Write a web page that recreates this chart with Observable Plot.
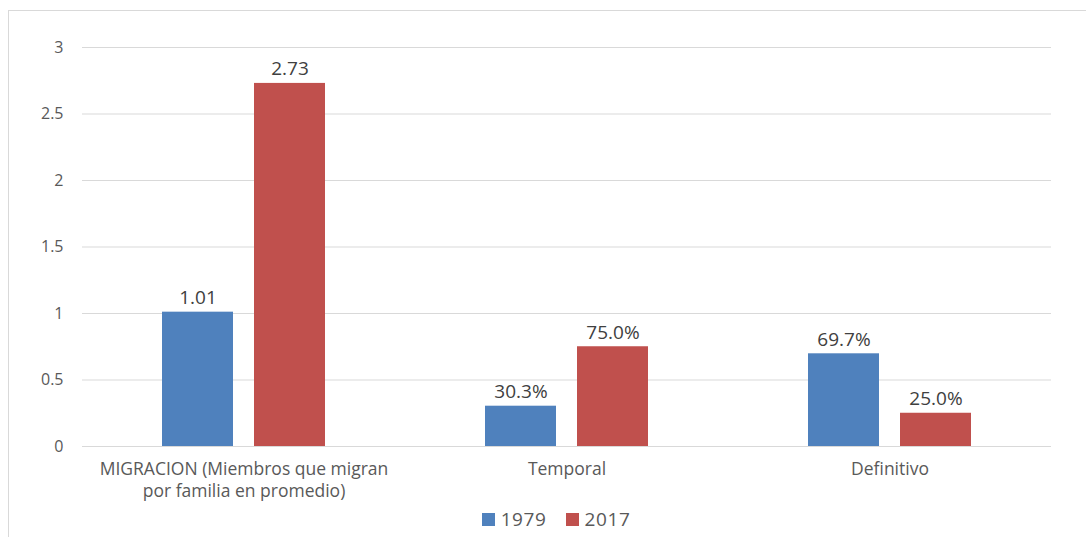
<!DOCTYPE html>
<html>
<head>
<meta charset="utf-8">
<script src="https://cdn.jsdelivr.net/npm/d3@7"></script>
<script src="https://cdn.jsdelivr.net/npm/@observablehq/plot@0.6"></script>
<style>
  html, body { margin: 0; padding: 0; background: #fff; }
  body { width: 1086px; height: 537px; position: relative; overflow: hidden; font-family: "Open Sans", sans-serif; }
  #frame { position: absolute; left: 8px; top: 10px; width: 1200px; height: 700px; border-left: 1.5px solid #d9d9d9; border-top: 1.5px solid #d9d9d9; }
  #chart { position: absolute; left: 0; top: 0; }
  #legend { position: absolute; top: 506px; left: 13px; width: 1086px; display: flex; justify-content: center; gap: 19px; font-size: 19px; color: #595959; letter-spacing: 0.6px; line-height: 26px; }
  #legend span.item { display: flex; align-items: center; gap: 6px; }
  #legend span.sw { display: inline-block; width: 13px; height: 13px; }
</style>
</head>
<body>
<div id="frame"></div>
<div id="chart"></div>
<div id="legend"></div>
<script>
const categories = ["MIGRACION (Miembros que migran\npor familia en promedio)", "Temporal", "Definitivo"];
const series = ["1979", "2017"];
const values1979 = [1.01, 0.303, 0.697];
const values2017 = [2.73, 0.75, 0.25];
const labels1979 = ["1.01", "30.3%", "69.7%"];
const labels2017 = ["2.73", "75.0%", "25.0%"];
const colors = ["#4F81BD", "#C0504D"];
const yTicks = [0, 0.5, 1, 1.5, 2, 2.5, 3];

const data = [];
categories.forEach((c, i) => {
  data.push({cat: c, year: series[0], value: values1979[i], label: labels1979[i]});
  data.push({cat: c, year: series[1], value: values2017[i], label: labels2017[i]});
});

const chart = Plot.plot({
  width: 1086,
  height: 505,
  marginLeft: 82,
  marginRight: 35,
  marginTop: 47,
  marginBottom: 59,
  style: {fontFamily: "Open Sans, sans-serif", color: "#595959", background: "transparent", overflow: "visible"},
  fx: {domain: categories, padding: 0, label: null, axis: null},
  x: {domain: series, paddingInner: 0.228, paddingOuter: 0.869, axis: null},
  y: {domain: [0, 3], ticks: yTicks, label: null},
  color: {domain: series, range: colors},
  marks: [
    Plot.gridY(yTicks, {stroke: "#d9d9d9", strokeOpacity: 1, strokeWidth: 1}),
    Plot.axisY(yTicks, {tickSize: 0, tickPadding: 19, fontSize: 16, fill: "#595959", tickFormat: d => String(d), label: null}),
    Plot.axisFx({anchor: "bottom", tickSize: 0, tickPadding: 12, fontSize: 17.5, fill: "#595959", label: null, lineHeight: 1.3, style: {letterSpacing: "0.4px"}}),
    Plot.barY(data, {fx: "cat", x: "year", y: "value", fill: "year"}),
    Plot.text(data, {fx: "cat", x: "year", y: "value", text: "label", lineAnchor: "bottom", dy: -8, fontSize: 19, fill: "#404040", style: {letterSpacing: "0.6px"}})
  ]
});
document.getElementById("chart").appendChild(chart);

const legend = document.getElementById("legend");
series.forEach((s, i) => {
  const item = document.createElement("span");
  item.className = "item";
  const sw = document.createElement("span");
  sw.className = "sw";
  sw.style.background = colors[i];
  item.appendChild(sw);
  item.appendChild(document.createTextNode(s));
  legend.appendChild(item);
});
</script>
</body>
</html>
